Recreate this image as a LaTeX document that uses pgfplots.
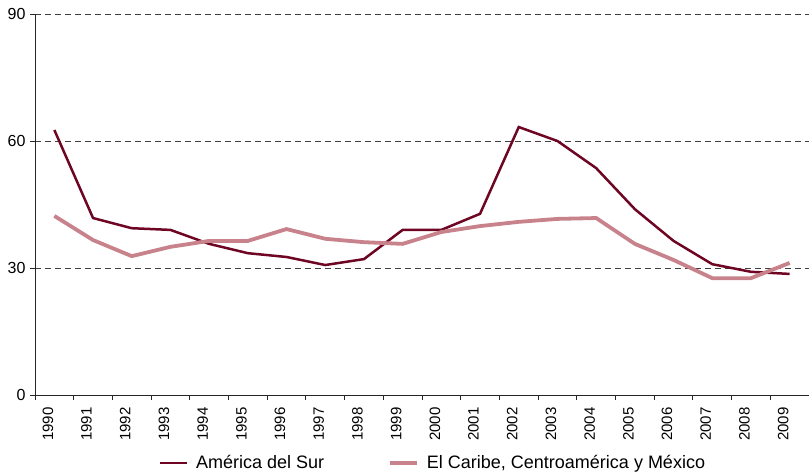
\documentclass[border=0pt]{standalone}
\usepackage{pgfplots}
\pgfplotsset{compat=1.18}
\usepackage{fontspec}
\setmainfont{Liberation Sans}
\definecolor{sur}{RGB}{110,5,35}
\definecolor{car}{RGB}{200,130,140}
\begin{document}
\begin{tikzpicture}
\path[use as bounding box] (-35pt,-81pt) rectangle (774pt,395pt);
\begin{axis}[
  at={(0,0)}, anchor=south west,
  scale only axis, width=774pt, height=381pt,
  xmin=-0.5, xmax=19.5, ymin=0, ymax=90,
  axis x line*=bottom, axis y line*=left,
  axis line style={black!85, line width=0.9pt},
  xtick={0,...,19},
  xticklabels={1990,1991,1992,1993,1994,1995,1996,1997,1998,1999,2000,2001,2002,2003,2004,2005,2006,2007,2008,2009},
  xticklabel style={rotate=90, anchor=south east, inner ysep=1pt, font=\fontsize{15}{17}\selectfont},
  xticklabel shift=4pt,
  major x tick style={draw=none},
  minor xtick={-0.5,0.5,...,19.5},
  minor x tick style={black!85, line width=0.9pt},
  minor tick length=5pt,
  ytick={0,30,60,90},
  yticklabel style={font=\fontsize{16}{18}\selectfont, xshift=-1pt},
  major y tick style={black!85, line width=0.9pt},
  major tick length=5pt,
  tick align=outside,
  ymajorgrids, grid style={black!75, dash pattern=on 6pt off 4pt, line width=0.9pt},
  /pgf/number format/assume math mode=true,
  legend columns=2,
  legend style={at={(axis description cs:0.514,0)}, anchor=center, yshift=-68pt,
    draw=none, fill=none, font=\fontsize{18}{20}\selectfont,
    /tikz/every odd column/.append style={column sep=6pt},
    /tikz/every even column/.append style={column sep=62pt}},
  legend image code/.code={\draw[#1] (0pt,0pt) -- (27pt,0pt);},
]
\addplot[sur, line width=2.5pt] coordinates {
(0,62.6) (1,41.8) (2,39.4) (3,39.0) (4,35.7) (5,33.5) (6,32.6) (7,30.7) (8,32.1) (9,39.0)
(10,39.0) (11,42.8) (12,63.3) (13,60.0) (14,53.6) (15,43.9) (16,36.4) (17,30.9) (18,29.1) (19,28.6)};
\addlegendentry{América del Sur}
\addplot[car, line width=3.8pt] coordinates {
(0,42.3) (1,36.6) (2,32.8) (3,35.0) (4,36.4) (5,36.4) (6,39.2) (7,36.9) (8,36.1) (9,35.7)
(10,38.5) (11,39.9) (12,40.9) (13,41.6) (14,41.8) (15,35.7) (16,31.9) (17,27.6) (18,27.6) (19,31.2)};
\addlegendentry{El Caribe, Centroamérica y México}
\end{axis}
\end{tikzpicture}
\end{document}
